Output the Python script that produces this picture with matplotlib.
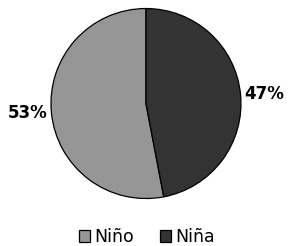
import matplotlib.pyplot as plt

labels = ["Niño", "Niña"]
values = [53, 47]
colors = ["#969696", "#333333"]

fig = plt.figure(figsize=(2.88, 2.46), dpi=100)
ax = fig.add_axes([0.177, 0.193, 0.6597, 0.7724])

wedges, texts = ax.pie(values, colors=colors, startangle=90,
                       labels=[f"{v}%" for v in values], labeldistance=1.04,
                       wedgeprops=dict(edgecolor="black", linewidth=0.9),
                       textprops=dict(fontsize=12, fontweight="bold"))
ax.set_xlim(-1, 1)
ax.set_ylim(-1, 1)
ax.set_aspect("equal")
ax.axis("off")

fig.legend(wedges, labels, loc="center", bbox_to_anchor=(0.51, 0.035),
           ncol=2, frameon=False, fontsize=12.5,
           handlelength=0.65, handleheight=0.65, handletextpad=0.25,
           columnspacing=1.5, borderpad=0)

fig.savefig("out.png", dpi=100)
